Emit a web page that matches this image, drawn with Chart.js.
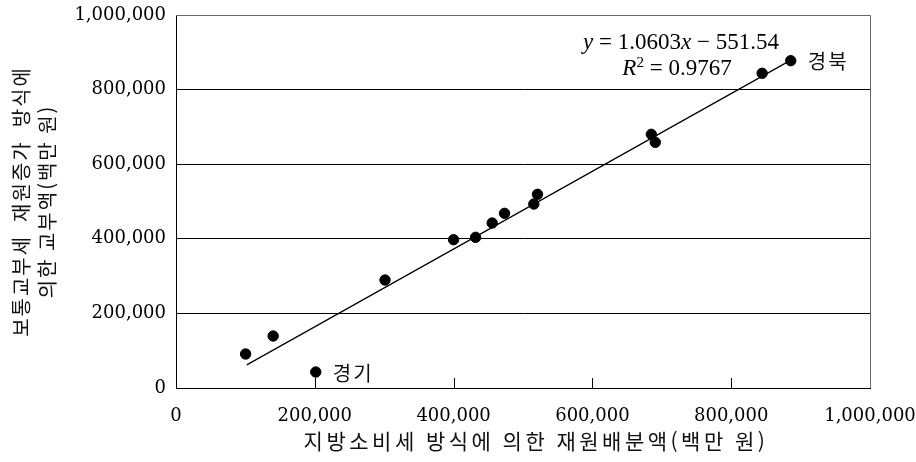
<!DOCTYPE html>
<html lang="ko">
<head>
<meta charset="utf-8">
<script src="https://cdn.jsdelivr.net/npm/chart.js@4/dist/chart.umd.min.js"></script>
<style>
  html, body { margin: 0; padding: 0; background: #fff; }
  #wrap { width: 916px; height: 462px; }
</style>
</head>
<body>
<div id="wrap"><canvas id="c" width="916" height="462"></canvas></div>
<script>
// Regional allocations (million won): local consumption tax method vs. grant-increase method
const allocByConsumptionTax = [100300, 140000, 201400, 301200, 400000, 431700, 455600, 473400, 515600, 520900, 684900, 690600, 844600, 885800];
const allocByGrantIncrease  = [91200, 139400, 42900, 289500, 397600, 404000, 442400, 468300, 493300, 519300, 680100, 658700, 843700, 877500];
const regionLabels = ['', '', '경기', '', '', '', '', '', '', '', '', '', '', '경북'];

// Fitted trend line end points
const trendX = [102000, 886000];
const trendY = [62000, 879000];

const axisTicks = [0, 200000, 400000, 600000, 800000, 1000000];
const xTitle = '지방소비세 방식에 의한 재원배분액(백만 원)';
const yTitleLines = ['보통교부세  재원증가  방식에', '의한 교부액(백만 원)'];

const numFont = '"DejaVu Serif", "Liberation Serif", serif';
const korFont = '"Noto Sans CJK KR", "Noto Sans", sans-serif';

const fmt = v => Number(v).toLocaleString('en-US');

const decor = {
  id: 'decor',
  afterDatasetsDraw(chart) {
    const { ctx, chartArea: a, scales: { x, y } } = chart;
    ctx.save();
    // frame: top/right in grey
    ctx.strokeStyle = '#666';
    ctx.lineWidth = 1;
    ctx.beginPath();
    ctx.moveTo(a.left, a.top + 0.5);
    ctx.lineTo(a.right + 0.5, a.top + 0.5);
    ctx.lineTo(a.right + 0.5, a.bottom);
    ctx.stroke();
    // inward tick marks on the x axis
    ctx.strokeStyle = '#000';
    axisTicks.slice(1, -1).forEach(v => {
      const px = Math.round(x.getPixelForValue(v)) + 0.5;
      ctx.beginPath();
      ctx.moveTo(px, a.bottom);
      ctx.lineTo(px, a.bottom - 10);
      ctx.stroke();
    });

    // region labels next to points
    ctx.fillStyle = '#111';
    ctx.font = '20px ' + korFont;
    ctx.textBaseline = 'middle';
    ctx.textAlign = 'left';
    ctx.letterSpacing = '2px';
    regionLabels.forEach((t, i) => {
      if (!t) return;
      const px = x.getPixelForValue(allocByConsumptionTax[i]);
      const py = y.getPixelForValue(allocByGrantIncrease[i]);
      ctx.fillText(t, px + 17, py + 1);
    });
    ctx.letterSpacing = '0px';

    // regression equation (italic variables)
    const drawRich = (parts, cx, cy) => {
      let w = 0;
      parts.forEach(p => { ctx.font = p.f; w += ctx.measureText(p.t).width; });
      let xx = cx - w / 2;
      parts.forEach(p => {
        ctx.font = p.f;
        ctx.fillText(p.t, xx, cy + (p.dy || 0));
        xx += ctx.measureText(p.t).width;
      });
    };
    const serif = '"Liberation Serif", serif';
    const n = '23px ' + serif, it = 'italic 23px ' + serif, sup = '15px ' + serif;
    ctx.fillStyle = '#000';
    drawRich([
      { t: 'y', f: it }, { t: ' = ', f: n }, { t: '1.0603', f: n },
      { t: 'x', f: it }, { t: ' − ', f: n }, { t: '551.54', f: n }
    ], 681, 43);
    drawRich([
      { t: 'R', f: it }, { t: '2', f: sup, dy: -6 }, { t: ' = ', f: n }, { t: '0.9767', f: n }
    ], 677, 69);

    // axis titles
    ctx.fillStyle = '#111';
    ctx.font = '21px ' + korFont;
    ctx.textAlign = 'center';
    ctx.letterSpacing = '3.5px';
    ctx.fillText(xTitle, (a.left + a.right) / 2 + 13, 441);
    ctx.font = '20px ' + korFont;
    ctx.letterSpacing = '2px';
    const cyMid = (a.top + a.bottom) / 2;
    [21, 47].forEach((cx, i) => {
      ctx.save();
      ctx.translate(cx, cyMid);
      ctx.rotate(-Math.PI / 2);
      ctx.fillText(yTitleLines[i], 0, 0);
      ctx.restore();
    });
    ctx.restore();
  }
};

new Chart(document.getElementById('c'), {
  type: 'scatter',
  data: {
    datasets: [
      {
        label: 'regions',
        data: allocByConsumptionTax.map((v, i) => ({ x: v, y: allocByGrantIncrease[i] })),
        backgroundColor: '#000',
        borderColor: '#000',
        pointRadius: 5.2,
        pointHoverRadius: 5.2,
        order: 0
      },
      {
        label: 'trend',
        data: trendX.map((v, i) => ({ x: v, y: trendY[i] })),
        showLine: true,
        borderColor: '#000',
        borderWidth: 1.2,
        pointRadius: 0,
        order: 1
      }
    ]
  },
  options: {
    responsive: false,
    animation: false,
    events: [],
    layout: { padding: { left: 0, top: 15, right: 46, bottom: 0 } },
    plugins: { legend: { display: false }, tooltip: { enabled: false } },
    scales: {
      x: {
        type: 'linear',
        min: 0, max: 1000000,
        afterFit: s => { s.height = 74; s.paddingLeft = 0; s.paddingRight = 0; },
        afterBuildTicks: s => { s.ticks = axisTicks.map(v => ({ value: v })); },
        grid: { display: false, drawTicks: false },
        border: { display: true, color: '#000', width: 1 },
        ticks: {
          padding: 18,
          color: '#000',
          font: { family: numFont, size: 18 },
          maxRotation: 0,
          autoSkip: false,
          callback: v => fmt(v)
        }
      },
      y: {
        type: 'linear',
        min: 0, max: 1000000,
        afterFit: s => { s.width = 176; s.paddingTop = 0; s.paddingBottom = 0; },
        afterBuildTicks: s => { s.ticks = axisTicks.map(v => ({ value: v })); },
        grid: {
          drawTicks: false,
          color: c => (c.tick && c.tick.value === 1000000 ? '#666' : '#000'),
          lineWidth: 1
        },
        border: { display: true, color: '#000', width: 1 },
        ticks: {
          padding: 10,
          color: '#000',
          font: { family: numFont, size: 18 },
          autoSkip: false,
          callback: v => fmt(v)
        }
      }
    }
  },
  plugins: [decor]
});
</script>
</body>
</html>
